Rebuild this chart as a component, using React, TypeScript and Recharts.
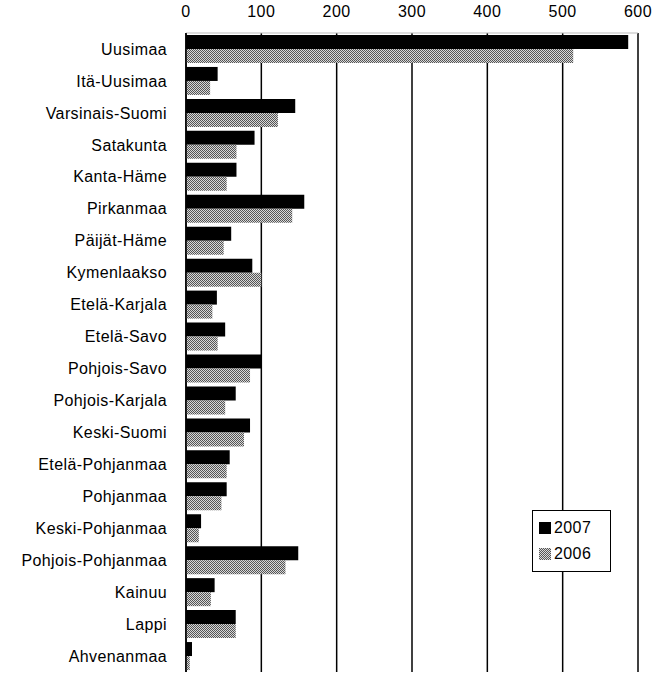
import React from "react";
import { BarChart, Bar, XAxis, YAxis, CartesianGrid } from "recharts";

const regions = [
  "Uusimaa",
  "Itä-Uusimaa",
  "Varsinais-Suomi",
  "Satakunta",
  "Kanta-Häme",
  "Pirkanmaa",
  "Päijät-Häme",
  "Kymenlaakso",
  "Etelä-Karjala",
  "Etelä-Savo",
  "Pohjois-Savo",
  "Pohjois-Karjala",
  "Keski-Suomi",
  "Etelä-Pohjanmaa",
  "Pohjanmaa",
  "Keski-Pohjanmaa",
  "Pohjois-Pohjanmaa",
  "Kainuu",
  "Lappi",
  "Ahvenanmaa",
];

const values2007 = [587, 42, 145, 91, 67, 157, 60, 88, 41, 52, 100, 66, 85, 58, 54, 20, 149, 38, 66, 8];
const values2006 = [514, 32, 122, 67, 54, 141, 50, 100, 35, 42, 85, 52, 77, 54, 47, 17, 132, 33, 66, 5];

const xTicks = [0, 100, 200, 300, 400, 500, 600];

const data = regions.map((name, i) => ({
  name,
  y2007: values2007[i],
  y2006: values2006[i],
}));

const font = "'Liberation Sans', Arial, sans-serif";

// legend drawn as an overlay so it doesn't shrink the plot area
function LegendBox() {
  const row = (fill: string, label: string) => (
    <div style={{ display: "flex", alignItems: "center", height: 26 }}>
      <svg width={12} height={12} style={{ marginRight: 3 }}>
        <rect width={12} height={12} fill={fill} />
      </svg>
      <span style={{ fontSize: 16, letterSpacing: 0.4, color: "#000" }}>{label}</span>
    </div>
  );
  return (
    <div
      style={{
        position: "absolute",
        left: 532,
        top: 510,
        border: "1px solid #000",
        background: "#fff",
        padding: "4px 6px",
        fontFamily: font,
        boxSizing: "border-box",
        width: 79,
        height: 62,
      }}
    >
      {row("#000", "2007")}
      {row("url(#dither)", "2006")}
    </div>
  );
}

export default function App() {
  return (
    <div style={{ position: "absolute", left: 0, top: 0, width: 668, height: 674, background: "#fff" }}>
      <BarChart
        width={668}
        height={674}
        data={data}
        layout="vertical"
        margin={{ top: 0, right: 30, left: 0, bottom: 2 }}
        barCategoryGap={2}
        barGap={0}
      >
        <defs>
          <pattern id="dither" width={2} height={2} patternUnits="userSpaceOnUse">
            <rect width={2} height={2} fill="#d8d8d8" />
            <rect width={1} height={1} fill="#555" />
            <rect x={1} y={1} width={1} height={1} fill="#555" />
          </pattern>
        </defs>
        <CartesianGrid horizontal={false} stroke="#000" strokeWidth={1.5} />
        <XAxis
          type="number"
          orientation="top"
          domain={[0, 600]}
          ticks={xTicks}
          height={33}
          tickLine={false}
          tickSize={0}
          tickMargin={16}
          axisLine={{ stroke: "#bbb" }}
          tick={{ fill: "#000", fontSize: 16, fontFamily: font, letterSpacing: 0.5 }}
          interval={0}
        />
        <YAxis
          type="category"
          dataKey="name"
          width={186}
          tickLine={false}
          tickSize={0}
          tickMargin={19}
          axisLine={{ stroke: "#000", strokeWidth: 1.5 }}
          tick={{ fill: "#000", fontSize: 16, fontFamily: font, letterSpacing: 0.4 }}
          interval={0}
        />
        <Bar dataKey="y2007" name="2007" fill="#000" isAnimationActive={false} />
        <Bar dataKey="y2006" name="2006" fill="url(#dither)" isAnimationActive={false} />
      </BarChart>
      <LegendBox />
    </div>
  );
}
